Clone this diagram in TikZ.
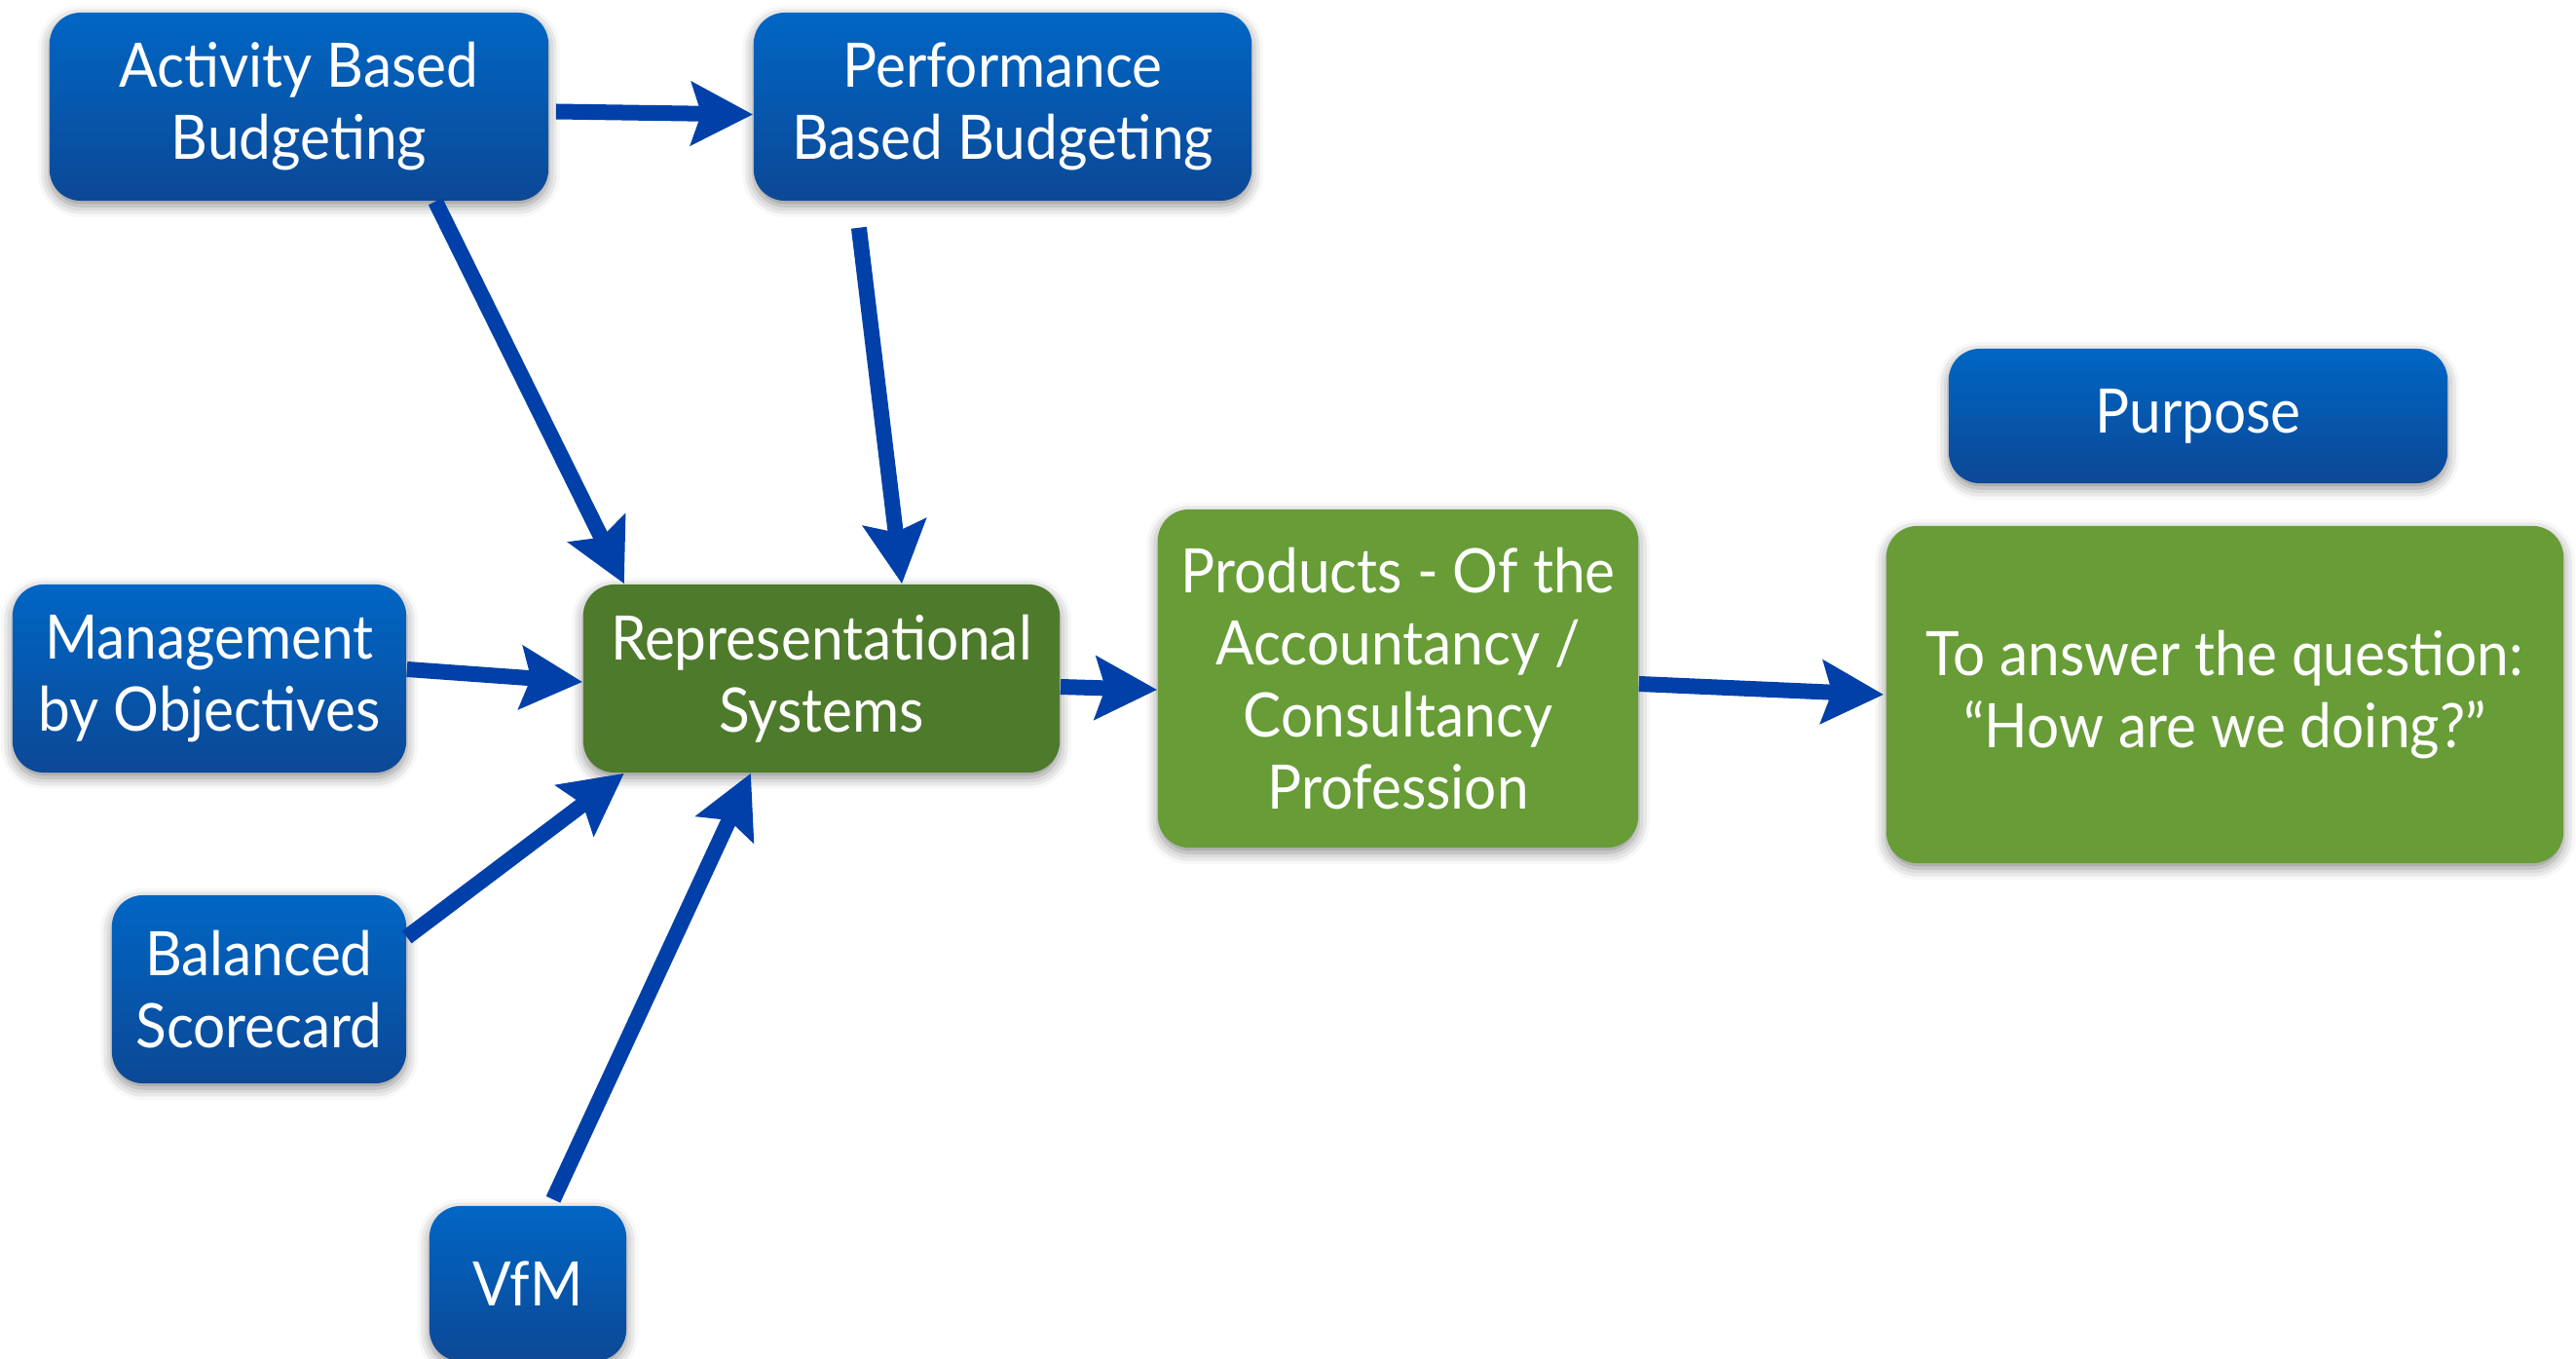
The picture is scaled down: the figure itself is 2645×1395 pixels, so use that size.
\documentclass[tikz,border=0pt]{standalone}
\usepackage{fontspec}
\setmainfont{Lato}[FakeStretch=0.93]
\usetikzlibrary{arrows.meta,shadows.blur}

\definecolor{boxtop}{RGB}{0,102,196}
\definecolor{boxbot}{RGB}{12,72,150}
\definecolor{repgreen}{RGB}{78,122,44}
\definecolor{prodgreen}{RGB}{103,156,55}
\definecolor{flowblue}{RGB}{0,64,168}

\tikzset{
  box/.style={rounded corners=0.32cm, inner sep=0pt, align=center, text=white,
    font=\fontsize{17.9}{21}\selectfont,
    blur shadow={shadow xshift=0pt, shadow yshift=-0.05cm,
      shadow blur radius=0.12cm, shadow opacity=45}},
  bluebox/.style={box, top color=boxtop, bottom color=boxbot},
  darkbox/.style={box, fill=repgreen},
  lightbox/.style={box, fill=prodgreen},
  flow/.style={draw=flowblue, line width=0.16cm,
    -{Stealth[length=0.63cm, width=0.64cm, inset=0.1cm, fill=flowblue]}}
}

\begin{document}
\begin{tikzpicture}[x=0.01cm, y=-0.01cm]
\useasboundingbox (0,0) rectangle (2645,1395);

% source techniques
\node[bluebox, minimum width=5.12cm, minimum height=1.93cm] (abb) at (307,109.5) {Activity Based\\Budgeting};
\node[bluebox, minimum width=5.11cm, minimum height=1.93cm] (pbb) at (1029.5,109.5) {Performance\\Based Budgeting};
\node[bluebox, minimum width=4.04cm, minimum height=1.93cm] (mbo) at (215,696.5) {Management\\by Objectives};
\node[bluebox, minimum width=3.02cm, minimum height=1.93cm] (bsc) at (266,1015.5) {Balanced\\Scorecard};
\node[bluebox, minimum width=2.02cm, minimum height=1.59cm] (vfm) at (542,1317.5) {VfM};

% central chain
\node[darkbox, minimum width=4.89cm, minimum height=1.93cm] (rep) at (843.5,696.5) {Representational\\Systems};
\node[lightbox, minimum width=4.93cm, minimum height=3.47cm] (prod) at (1435.5,696.5) {Products - Of the\\Accountancy /\\Consultancy\\Profession};

% purpose
\node[bluebox, minimum width=5.12cm, minimum height=1.38cm] (purpose) at (2257,427) {Purpose};
\node[lightbox, minimum width=6.95cm, minimum height=3.46cm] (ans) at (2284.5,713) {To answer the question:\\“How are we doing?”};

% connectors
\draw[flow] ([xshift=0.07cm, yshift=-0.05cm]abb.east) -- ([yshift=-0.08cm]pbb.west);
\draw[flow] ([xshift=1.4cm]abb.south) -- ([xshift=-2.025cm]rep.north);
\draw[flow] ([xshift=-1.475cm, yshift=-0.27cm]pbb.south) -- ([xshift=0.825cm]rep.north);
\draw[flow] ([yshift=0.095cm]mbo.east) -- ([yshift=-0.035cm]rep.west);
\draw[flow] ([yshift=0.535cm]bsc.east) -- ([xshift=-2.025cm]rep.south);
\draw[flow] ([xshift=0.26cm, yshift=0.06cm]vfm.north) -- ([xshift=-0.725cm]rep.south);
\draw[flow] ([yshift=-0.085cm]rep.east) -- ([yshift=-0.115cm]prod.west);
\draw[flow] ([yshift=-0.055cm]prod.east) -- ([xshift=-0.02cm]ans.west);
\end{tikzpicture}
\end{document}
